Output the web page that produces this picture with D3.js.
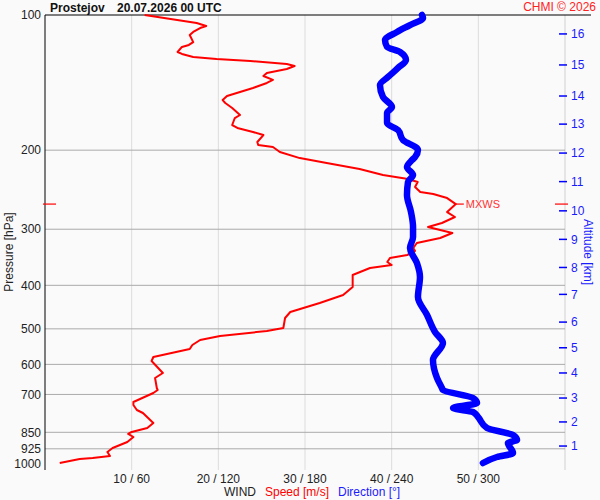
<!DOCTYPE html>
<html>
<head>
<meta charset="utf-8">
<script src="https://cdn.jsdelivr.net/npm/d3@7"></script>
<style>
  body { margin: 0; background: #fafafa; }
  svg { display: block; font-family: "Liberation Sans", Arial, sans-serif; }
</style>
</head>
<body>
<svg width="600" height="500"></svg>
<script>
// Wind speed profile (hPa, m/s)
const speedPres = [100, 104.2, 105.8, 106.9, 109.1, 110.8, 114.9, 116.6, 117.8, 120.9, 122.1, 124.0, 125.3, 126.6, 128.6, 129.9, 131.9, 134.6, 136.7, 139.5, 141.7, 145.4, 148.4, 151.5, 154.7, 157.0, 161.1, 167.0, 169.6, 175.8, 178.5, 182.2, 185.1, 191.8, 194.8, 196.8, 201.9, 208.3, 213.6, 220.3, 227.2, 231.9, 235.5, 241.6, 247.9, 250.5, 255.7, 263.7, 274.7, 281.8, 290.6, 296.6, 301.2, 305.9, 313.8, 321.9, 330.3, 335.4, 342.4, 347.7, 354.9, 360.4, 365.9, 379.3, 403.4, 420.3, 437.9, 458.6, 472.9, 497.8, 505.5, 518.7, 529.5, 543.2, 554.5, 577.7, 589.6, 627.0, 643.4, 677.2, 684.2, 694.8, 727.7, 739.0, 758.1, 769.8, 810.4, 831.4, 848.6, 857.3, 870.7, 893.3, 921.3, 940.4, 959.9, 969.7, 974.8, 994.9];
const speedVal = [11.5, 17.5, 18.6, 17.9, 17.1, 16.7, 17.1, 16.6, 15.8, 15.3, 15.8, 17.1, 19.8, 23.7, 27.9, 28.8, 27.9, 25.6, 25.2, 26.3, 25.6, 24.0, 22.5, 21.0, 20.5, 20.8, 21.6, 22.5, 21.9, 21.6, 22.2, 24.0, 25.2, 24.5, 24.6, 26.3, 27.1, 29.4, 32.5, 36.3, 39.0, 41.9, 43.0, 42.7, 43.3, 44.8, 46.4, 47.4, 46.4, 47.3, 45.8, 44.2, 45.6, 47.0, 45.6, 42.9, 42.5, 42.7, 41.8, 39.8, 39.5, 40.0, 37.5, 35.5, 35.5, 34.4, 31.7, 28.3, 27.7, 27.5, 25.6, 20.2, 17.9, 17.0, 16.7, 12.5, 12.3, 13.6, 12.7, 12.9, 13.0, 12.5, 10.2, 10.2, 10.6, 11.3, 12.5, 11.8, 10.0, 9.6, 10.2, 9.5, 7.8, 7.2, 7.5, 5.5, 4.0, 1.7];

// Wind direction profile (hPa, degrees)
const dirPres = [100, 101.5, 105.3, 109.1, 113.7, 117.8, 120.9, 125.9, 131.2, 137.4, 143.2, 152.3, 160.3, 165.3, 174.0, 180.4, 189.8, 199.8, 207.2, 210.4, 218.1, 227.2, 235.5, 251.8, 274.7, 296.6, 312.2, 330.3, 356.7, 383.2, 424.6, 465.7, 508.2, 537.7, 586.6, 643.4, 677.2, 684.2, 712.9, 731.4, 750.4, 765.9, 785.7, 831.4, 861.7, 884.1, 897.9, 945.2, 964.7, 994.9];
const dirVal = [261.0, 261.7, 252.7, 243.7, 235.4, 236.8, 245.8, 249.9, 244.4, 237.5, 231.9, 234.0, 240.2, 236.8, 236.8, 244.4, 247.8, 258.2, 256.2, 254.1, 250.6, 254.8, 251.3, 250.6, 253.4, 254.8, 254.8, 252.7, 257.5, 259.6, 258.2, 264.5, 270.0, 275.5, 268.6, 271.4, 274.8, 275.5, 296.3, 299.1, 282.5, 296.3, 299.8, 306.0, 324.0, 326.8, 320.5, 324.0, 312.9, 303.2];

// Axis ticks
const presTicks = [100, 200, 300, 400, 500, 600, 700, 850, 925, 1000];
const windTicks = [10, 20, 30, 40, 50];
const windLabels = ["10 / 60", "20 / 120", "30 / 180", "40 / 240", "50 / 300"];
const altKm = [1, 2, 3, 4, 5, 6, 7, 8, 9, 10, 11, 12, 13, 14, 15, 16];
const altPres = [912, 806, 713, 627, 551, 483, 419, 365, 316, 273, 235, 203, 175, 151.5, 129.2, 110.2];

// Max wind level
const mxwsPres = 263.7;
const mxwsSpeed = 47.4;

const svg = d3.select("svg");
const plotLeft = 45, plotRight = 565, plotTop = 15, plotBottom = 464;

const y = d3.scaleLog().domain([100, 1000]).range([plotTop, plotBottom]);
const xSpeed = d3.scaleLinear().domain([0, 60]).range([plotLeft, plotRight]);
const xDir = d3.scaleLinear().domain([0, 360]).range([plotLeft, plotRight]);

svg.append("rect").attr("width", 600).attr("height", 500).attr("fill", "#fafafa");

// vertical grid
svg.selectAll(".vgrid")
  .data(windTicks)
  .enter()
  .append("line")
  .attr("x1", d => xSpeed(d)).attr("x2", d => xSpeed(d))
  .attr("y1", plotTop).attr("y2", 470)
  .attr("stroke", "#dcdcdc").attr("stroke-width", 1);

// right axis line
svg.append("line")
  .attr("x1", plotRight).attr("x2", plotRight).attr("y1", plotTop).attr("y2", 470)
  .attr("stroke", "#d0d0d0");

// horizontal grid
svg.selectAll(".hgrid")
  .data(presTicks.filter(d => d > 100 && d < 1000))
  .enter()
  .append("line")
  .attr("x1", plotLeft).attr("x2", plotRight)
  .attr("y1", d => y(d)).attr("y2", d => y(d))
  .attr("stroke", "#aaaaaa").attr("stroke-width", 1);

// top line and left axis
svg.append("line").attr("x1", plotLeft).attr("x2", 591).attr("y1", plotTop).attr("y2", plotTop)
  .attr("stroke", "#000");
svg.append("line").attr("x1", plotLeft).attr("x2", plotLeft).attr("y1", plotTop).attr("y2", 470)
  .attr("stroke", "#000");

// pressure labels
svg.selectAll(".plab")
  .data(presTicks)
  .enter()
  .append("text")
  .attr("x", 41).attr("y", d => y(d)).attr("dy", "0.35em")
  .attr("text-anchor", "end").attr("font-size", 12).attr("fill", "#222")
  .text(d => d);

// wind labels
svg.selectAll(".wlab")
  .data(windTicks)
  .enter()
  .append("text")
  .attr("x", d => xSpeed(d)).attr("y", 483)
  .attr("text-anchor", "middle").attr("font-size", 12).attr("fill", "#222")
  .text((d, i) => windLabels[i]);

// altitude ticks
svg.selectAll(".atick")
  .data(altKm)
  .enter()
  .append("line")
  .attr("x1", 559).attr("x2", 567)
  .attr("y1", (d, i) => y(altPres[i])).attr("y2", (d, i) => y(altPres[i]))
  .attr("stroke", "#0000ff").attr("stroke-width", 1.5);
svg.selectAll(".alab")
  .data(altKm)
  .enter()
  .append("text")
  .attr("x", 571).attr("y", (d, i) => y(altPres[i])).attr("dy", "0.35em")
  .attr("font-size", 12).attr("fill", "#1a1aff")
  .text(d => d);

// wind speed line
const speedLine = d3.line()
  .x((d, i) => xSpeed(speedVal[i]))
  .y(d => y(d));
svg.append("path")
  .attr("d", speedLine(speedPres))
  .attr("fill", "none").attr("stroke", "#ff0000").attr("stroke-width", 2)
  .attr("stroke-linejoin", "round");

// wind direction line
const dirLine = d3.line()
  .x((d, i) => xDir(dirVal[i]))
  .y(d => y(d))
  .curve(d3.curveMonotoneY);
svg.append("path")
  .attr("d", dirLine(dirPres))
  .attr("fill", "none").attr("stroke", "#0000ff").attr("stroke-width", 6.5)
  .attr("stroke-linejoin", "round").attr("stroke-linecap", "round");

// max wind markers
const my = y(mxwsPres);
svg.append("line").attr("x1", 43).attr("x2", 56).attr("y1", my).attr("y2", my)
  .attr("stroke", "#ff0000").attr("stroke-width", 1.2);
svg.append("line").attr("x1", 555).attr("x2", 568).attr("y1", my).attr("y2", my)
  .attr("stroke", "#ff0000").attr("stroke-width", 1.2);
svg.append("line").attr("x1", xSpeed(mxwsSpeed)).attr("x2", xSpeed(mxwsSpeed) + 8)
  .attr("y1", my).attr("y2", my)
  .attr("stroke", "#ff0000").attr("stroke-width", 1.2);
svg.append("text").attr("x", xSpeed(mxwsSpeed) + 10).attr("y", my).attr("dy", "0.35em")
  .attr("font-size", 11).attr("fill", "#ff3333").text("MXWS");

// titles
svg.append("text").attr("x", 50).attr("y", 11.5)
  .attr("font-size", 12).attr("font-weight", "bold").attr("fill", "#111")
  .text("Prostejov");
svg.append("text").attr("x", 117).attr("y", 11.5)
  .attr("font-size", 12).attr("font-weight", "bold").attr("fill", "#111")
  .text("20.07.2026 00 UTC");
svg.append("text").attr("x", 596).attr("y", 11)
  .attr("text-anchor", "end").attr("font-size", 12).attr("fill", "#ff2222")
  .text("CHMI © 2026");

// axis titles
svg.append("text")
  .attr("transform", "translate(13,252) rotate(-90)")
  .attr("text-anchor", "middle").attr("font-size", 12).attr("fill", "#222")
  .text("Pressure [hPa]");
svg.append("text")
  .attr("transform", "translate(584,252) rotate(90)")
  .attr("text-anchor", "middle").attr("font-size", 12).attr("fill", "#1a1aff")
  .text("Altitude [km]");

const bottomLabel = svg.append("text").attr("x", 224).attr("y", 496).attr("font-size", 12);
bottomLabel.append("tspan").attr("fill", "#222").text("WIND");
bottomLabel.append("tspan").attr("dx", 9).attr("fill", "#ff0000").text("Speed [m/s]");
bottomLabel.append("tspan").attr("dx", 9).attr("fill", "#1a1aff").text("Direction [°]");
</script>
</body>
</html>
